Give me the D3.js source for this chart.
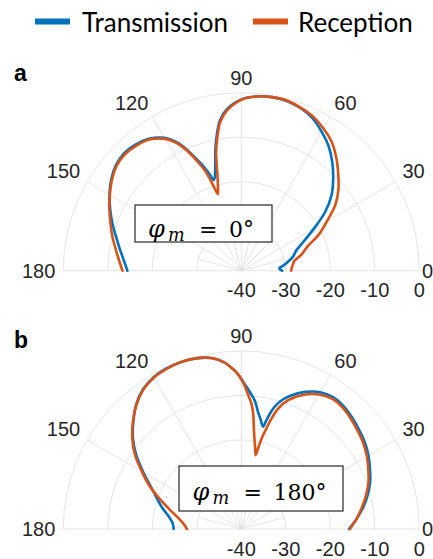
<!DOCTYPE html>
<html><head><meta charset="utf-8">
<script src="https://cdn.jsdelivr.net/npm/d3@7"></script>
<style>body{margin:0;background:#fff} svg{display:block}</style>
</head><body>
<svg id="chart" width="433" height="559"></svg>
<script>
// ---------- data ----------
const seriesNames = ["Transmission", "Reception"];
const seriesColors = ["#0072BD", "#D95319"];
const thetaTicks = [0, 30, 60, 90, 120, 150, 180];
const rTicks = [-40, -30, -20, -10, 0];
const panelLabels = ["a", "b"];
const phiValues = ["0°", "180°"];

// panel a (φm = 0°)
const thetaA = [0,2,4,6,8,10,15,20,25,30,35,40,45,50,55,60,65,70,75,80,85,90,95,98,100,102,104,105,106,107,108,109,110,112,114,116,118,120,125,130,135,140,145,150,155,160,165,170,175,180];
const txA = [-30.8,-31.3,-31.4,-30.8,-30.2,-29.6,-28.0,-26.9,-24.6,-21.2,-17.0,-13.5,-10.8,-8.2,-5.8,-3.9,-2.2,-1.1,-0.5,-0.4,-0.7,-1.5,-3.5,-5.8,-8.6,-12.0,-15.8,-17.2,-18.3,-18.7,-17.4,-16.2,-15.0,-12.8,-10.4,-8.3,-6.7,-5.5,-3.8,-3.0,-2.7,-3.2,-4.3,-5.8,-7.5,-9.2,-10.9,-12.3,-13.5,-14.4];
const rxA = [-28.8,-28.7,-28.6,-28.4,-28.2,-28.0,-26.0,-24.2,-20.8,-17.8,-14.2,-11.5,-9.2,-6.8,-4.6,-3.1,-1.8,-1.0,-0.4,-0.4,-0.7,-1.6,-3.8,-6.2,-9.2,-12.8,-17.8,-19.6,-21.0,-22.0,-20.4,-18.0,-16.0,-13.4,-10.8,-8.6,-7.0,-5.8,-4.0,-3.3,-3.0,-3.4,-4.5,-5.9,-7.3,-8.7,-10.0,-11.3,-12.4,-13.3];

// panel b (φm = 180°)
const thetaB = [0,5,10,15,20,25,30,35,40,45,50,55,60,65,70,73,75,76,77,78,79,80,81,82,83,84,85,86,87,89,91,93,96,100,105,110,115,120,125,130,135,140,145,150,155,160,165,170,175,180];
const txB = [-15.8,-14.0,-12.2,-10.6,-9.2,-8.1,-7.0,-6.1,-5.4,-4.7,-4.1,-3.9,-4.5,-6.0,-8.2,-10.0,-11.8,-13.2,-14.9,-16.5,-15.9,-15.0,-14.2,-13.3,-12.1,-11.0,-10.2,-9.5,-8.7,-7.2,-5.4,-4.0,-2.3,-1.0,-0.3,-0.1,-0.2,-0.6,-1.6,-3.3,-5.7,-8.2,-11.2,-14.6,-17.6,-19.8,-21.6,-23.4,-24.5,-24.8];
const rxB = [-15.6,-14.0,-12.5,-11.0,-9.6,-8.5,-7.4,-6.5,-5.8,-5.1,-4.5,-4.3,-5.1,-6.7,-9.2,-11.7,-14.8,-16.8,-18.5,-20.8,-23.1,-21.9,-20.6,-19.0,-16.9,-14.2,-12.3,-11.0,-9.9,-7.4,-5.4,-4.0,-2.3,-1.0,-0.3,-0.1,-0.3,-0.7,-1.7,-3.4,-5.6,-8.0,-10.8,-14.2,-17.3,-20.6,-23.4,-25.6,-27.0,-27.8];

// ---------- drawing ----------
const svg = d3.select("#chart");
const W = 433;
const R = 178;
const rScale = d3.scaleLinear().domain([-40, 0]).range([0, R]);
const gridColor = "#dedede";
const tickFont = "'Liberation Sans', Arial, sans-serif";

const panels = [
  {cx: 241.3, cy: 270.7, theta: thetaA, series: [txA, rxA], label: panelLabels[0], phi: phiValues[0],
   box: {x: 135, y: 205, w: 137, h: 37, tx: 148, ty: 237}},
  {cx: 241.3, cy: 529, theta: thetaB, series: [txB, rxB], label: panelLabels[1], phi: phiValues[1],
   box: {x: 179, y: 466, w: 164, h: 45, tx: 192.5, ty: 500}}
];

const rad = t => t * Math.PI / 180;

panels.forEach((p, pi) => {
  const g = svg.append("g");
  const pol = (t, r) => [p.cx + r * Math.cos(rad(t)), p.cy - r * Math.sin(rad(t))];

  // rings
  rTicks.filter(v => v > -40).forEach(v => {
    const r = rScale(v);
    const path = d3.path();
    path.moveTo(p.cx + r, p.cy);
    path.arc(p.cx, p.cy, r, 0, -Math.PI, true);
    g.append("path").attr("d", path.toString()).attr("fill", "none")
      .attr("stroke", gridColor).attr("stroke-width", 0.8);
  });
  // minor spokes near centre
  d3.range(15, 180, 30).forEach(t => {
    const [x2, y2] = pol(t, rScale(-30));
    g.append("line").attr("x1", p.cx).attr("y1", p.cy).attr("x2", x2).attr("y2", y2)
      .attr("stroke", gridColor).attr("stroke-width", 0.8);
  });
  // major spokes
  thetaTicks.forEach(t => {
    const [x2, y2] = pol(t, R);
    g.append("line").attr("x1", p.cx).attr("y1", p.cy).attr("x2", x2).attr("y2", y2)
      .attr("stroke", gridColor).attr("stroke-width", 0.8);
  });

  // theta labels
  thetaTicks.forEach(t => {
    let [x, y] = pol(t, R + 8);
    const c = Math.cos(rad(t));
    let anchor = c > 0.01 ? "start" : (c < -0.01 ? "end" : "middle");
    if (t === 0) { x = W; anchor = "end"; }   // the reference crops this label at the edge
    g.append("text").attr("x", x).attr("y", (t === 0 || t === 180) ? y + 7 : y)
      .attr("text-anchor", anchor).attr("font-family", tickFont).attr("font-size", 20)
      .attr("fill", "#262626").text(t);
  });
  // r labels
  rTicks.forEach(v => {
    g.append("text").attr("x", p.cx + rScale(v)).attr("y", p.cy + 26.5)
      .attr("text-anchor", "middle").attr("font-family", tickFont).attr("font-size", 20)
      .attr("fill", "#262626").text(v);
  });

  // curves
  const line = d3.lineRadial()
    .angle(d => Math.PI / 2 - rad(d[0]))
    .radius(d => rScale(d[1]))
    .curve(d3.curveCatmullRom.alpha(0.5));
  p.series.forEach((vals, si) => {
    const pts = p.theta.map((t, i) => [t, vals[i]]);
    g.append("path").attr("d", line(pts))
      .attr("transform", `translate(${p.cx},${p.cy})`)
      .attr("fill", "none").attr("stroke", seriesColors[si])
      .attr("stroke-width", 2.6).attr("stroke-linejoin", "round").attr("stroke-linecap", "round");
  });

  // annotation box
  const b = p.box;
  g.append("rect").attr("x", b.x).attr("y", b.y).attr("width", b.w).attr("height", b.h)
    .attr("fill", "#fff").attr("stroke", "#262626").attr("stroke-width", 1.2);
  const serif = "'DejaVu Serif', 'Liberation Serif', serif";
  const fs = 22;
  g.append("text").attr("x", b.tx).attr("y", b.ty).attr("font-family", serif)
    .attr("font-size", fs + 2).attr("font-style", "italic").attr("fill", "#000").text("φ");
  g.append("text").attr("x", b.tx + 20).attr("y", b.ty + 4).attr("font-family", serif)
    .attr("font-size", fs * 0.8).attr("font-style", "italic").attr("fill", "#000").text("m");
  g.append("text").attr("x", b.tx + 51).attr("y", b.ty).attr("font-family", serif)
    .attr("font-size", fs).attr("fill", "#000").text("=");
  g.append("text").attr("x", b.tx + 81).attr("y", b.ty).attr("font-family", serif)
    .attr("font-size", fs).attr("fill", "#000").text(p.phi);

  // panel letter
  svg.append("text").attr("x", 14).attr("y", pi === 0 ? 80.5 : 348)
    .attr("font-family", tickFont).attr("font-weight", "bold").attr("font-size", 23)
    .attr("fill", "#000").text(p.label);
});

// legend
const legendX = [35, 253];
const legendTextX = [82, 298];
seriesNames.forEach((n, i) => {
  svg.append("line").attr("x1", legendX[i]).attr("x2", legendX[i] + 35)
    .attr("y1", 21.5).attr("y2", 21.5).attr("stroke", seriesColors[i]).attr("stroke-width", 6);
  svg.append("text").attr("x", legendTextX[i]).attr("y", 32)
    .attr("font-family", "Lato, 'Open Sans', sans-serif").attr("font-size", 26)
    .attr("fill", "#000").text(n);
});
</script>
</body></html>
